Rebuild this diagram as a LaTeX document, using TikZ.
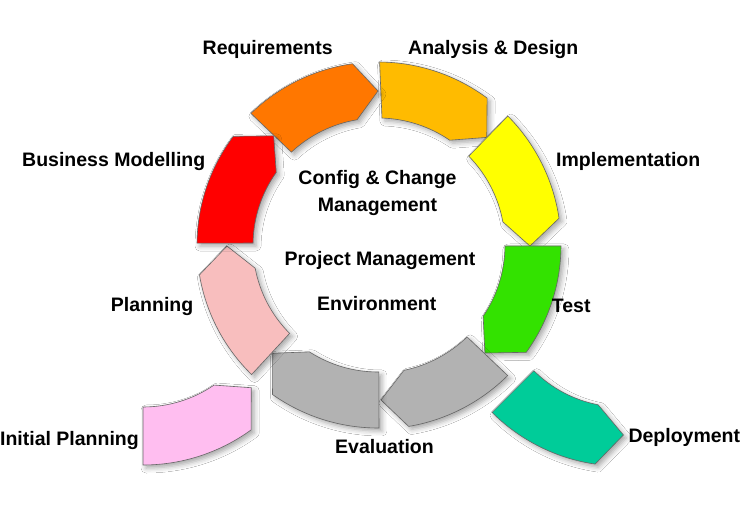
\documentclass[tikz,border=0pt]{standalone}
\usepackage{fontspec}
\setmainfont{Liberation Sans}
\usetikzlibrary{shadows.blur}
\definecolor{cReq}{RGB}{255,119,0}
\definecolor{cAna}{RGB}{255,187,0}
\definecolor{cImp}{RGB}{255,255,0}
\definecolor{cTest}{RGB}{51,226,0}
\definecolor{cEval}{RGB}{178,178,178}
\definecolor{cPlan}{RGB}{248,190,190}
\definecolor{cBus}{RGB}{255,0,0}
\definecolor{cInit}{RGB}{255,190,240}
\definecolor{cDep}{RGB}{0,204,153}
\begin{document}
\begin{tikzpicture}[x=1pt,y=-1pt,
  seg/.style={draw=black!60, line width=0.6pt, line join=miter,
    blur shadow={shadow xshift=3pt, shadow yshift=-3pt, shadow blur radius=5pt, shadow opacity=35}},
  lbl/.style={inner sep=0pt, text=black, font=\bfseries\fontsize{19.5}{26.5}\selectfont}]
\useasboundingbox (0,0) rectangle (747,508);
\fill[white] (0,0) rectangle (747,508);

% ring segments, centre (378,245)
\begin{scope}[shift={(378,245)}]
  \path[seg, fill=cAna] (-89.5:183) arc[start angle=-89.5, end angle=-53.4, radius=183]
    -- (-44.7:153) -- (-55.6:127) arc[start angle=-55.6, end angle=-88.2, radius=127] -- cycle;
  \path[seg, fill=cReq] (-134:183) arc[start angle=-134, end angle=-98, radius=183]
    -- (-90:154) -- (-99.5:127) arc[start angle=-99.5, end angle=-133, radius=127] -- cycle;
  \path[seg, fill=cImp] (-44.8:183) arc[start angle=-44.8, end angle=-8.4, radius=183]
    -- (0.4:152) -- (-10.5:127) arc[start angle=-10.5, end angle=-44.4, radius=127] -- cycle;
  \path[seg, fill=cTest] (0.3:183) arc[start angle=0.3, end angle=35.9, radius=183]
    -- (45.3:152) -- (34.1:127) arc[start angle=34.1, end angle=0.45, radius=127] -- cycle;
  \path[seg, fill=cEval] (45.2:184) arc[start angle=45.2, end angle=80.4, radius=184]
    -- (88.9:155) -- (78.3:128) arc[start angle=78.3, end angle=45.9, radius=128] -- cycle;
  \path[seg, fill=cEval] (89.7:183) arc[start angle=89.7, end angle=125.2, radius=183]
    -- (134.2:151) -- (122.7:127) arc[start angle=122.7, end angle=89.6, radius=127] -- cycle;
  \path[seg, fill=cPlan] (134.3:181) arc[start angle=134.3, end angle=170.5, radius=181]
    -- (179.6:151) -- (169.3:125) arc[start angle=169.3, end angle=135, radius=125] -- cycle;
  \path[seg, fill=cBus] (180.6:181) arc[start angle=180.6, end angle=216.9, radius=181]
    -- (226.3:151) -- (215.5:125) arc[start angle=215.5, end angle=180.9, radius=125] -- cycle;
\end{scope}

% Deployment, centre (621.5,283)
\begin{scope}[shift={(621.5,283)}]
  \path[seg, fill=cDep] (135:183) arc[start angle=135, end angle=98.3, radius=183]
    -- (89.3:152) -- (100.9:124) arc[start angle=100.9, end angle=135, radius=124] -- cycle;
\end{scope}

% Initial Planning, centre (143,281)
\begin{scope}[shift={(143,281)}]
  \path[seg, fill=cInit] (90:184) arc[start angle=90, end angle=54, radius=184]
    -- (44.6:152) -- (55.7:126) arc[start angle=55.7, end angle=90, radius=126] -- cycle;
\end{scope}

% labels
\node[lbl, anchor=base west] (req) at (202.5,55) {Requirements};
\node[lbl, anchor=base west] (ana) at (408,55) {Analysis \& Design};
\node[lbl, anchor=base west] (bus) at (22,166.5) {Business Modelling};
\node[lbl, anchor=base west] (imp) at (556,166.5) {Implementation};
\node[lbl, anchor=base, align=center] (cfg) at (377.5,211) {Config \& Change\\Management};
\node[lbl, anchor=base] (pm) at (380,265) {Project Management};
\node[lbl, anchor=base] (env) at (376.7,310.5) {Environment};
\node[lbl, anchor=base east] (plan) at (193.5,311.7) {Planning};
\node[lbl, anchor=base west] (test) at (551.7,312.3) {Test};
\node[lbl, anchor=base east] (init) at (139,445) {Initial Planning};
\node[lbl, anchor=base west] (eval) at (335,453.3) {Evaluation};
\node[lbl, anchor=base west] (dep) at (628.3,442) {Deployment};
\end{tikzpicture}
\end{document}
